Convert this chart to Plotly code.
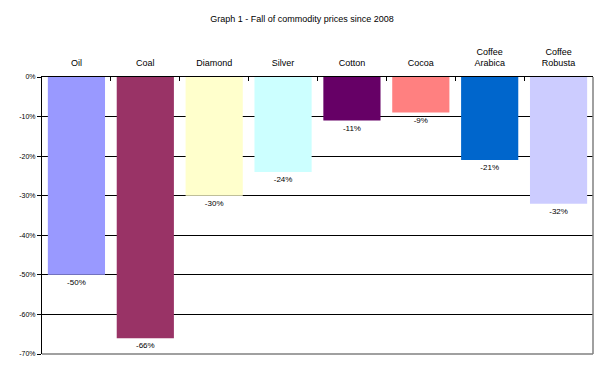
import plotly.graph_objects as go

categories = ["Oil", "Coal", "Diamond", "Silver", "Cotton", "Cocoa", "Coffee<br>Arabica", "Coffee<br>Robusta"]
values = [-0.50, -0.66, -0.30, -0.24, -0.11, -0.09, -0.21, -0.32]
labels = ["-50%", "-66%", "-30%", "-24%", "-11%", "-9%", "-21%", "-32%"]
colors = ["#9999FF", "#993366", "#FFFFCC", "#CCFFFF", "#660066", "#FF8080", "#0066CC", "#CCCCFF"]
y_ticks = [0, -0.1, -0.2, -0.3, -0.4, -0.5, -0.6, -0.7]
y_ticklabels = ["0%", "-10%", "-20%", "-30%", "-40%", "-50%", "-60%", "-70%"]

font_family = "Liberation Sans, Arial, sans-serif"

# page body has an 8px default margin: figure is 596x364 placed at (8, 8)
W, H = 596, 364

fig = go.Figure(go.Bar(
    x=categories,
    y=values,
    marker=dict(color=colors, line=dict(width=0)),
    text=labels,
    textposition="outside",
    textfont=dict(size=8, color="black", family=font_family),
    cliponaxis=False,
))

fig.update_layout(
    width=W, height=H,
    margin=dict(l=28, r=11, t=69, b=18, pad=0),
    paper_bgcolor="white", plot_bgcolor="white",
    bargap=0.17,
    showlegend=False,
    font=dict(family=font_family, color="black"),
    title=dict(text="Graph 1 - Fall of commodity prices since 2008",
               x=294 / W, xanchor="center", y=1 - 11 / H, yanchor="middle",
               font=dict(size=9, family=font_family, color="black")),
    xaxis=dict(side="top", showline=True, linecolor="black", linewidth=1,
               ticks="inside", tickson="boundaries", ticklen=4, tickcolor="black",
               tickfont=dict(size=9, family=font_family), showgrid=False,
               ticklabelstandoff=6, zeroline=False),
    yaxis=dict(range=[-0.70, 0], tickvals=y_ticks, ticktext=y_ticklabels,
               showline=True, linecolor="black", linewidth=1,
               ticks="outside", ticklen=4, tickcolor="black",
               tickfont=dict(size=7, family=font_family),
               showgrid=True, gridcolor="black", gridwidth=1, zeroline=False),
    shapes=[
        dict(type="line", xref="paper", yref="paper", x0=1, x1=1, y0=0, y1=1,
             line=dict(color="#808080", width=1.5)),
        dict(type="line", xref="paper", yref="paper", x0=0, x1=1, y0=0, y1=0,
             line=dict(color="#808080", width=1.5)),
    ],
)

fig.write_html("out.html")
